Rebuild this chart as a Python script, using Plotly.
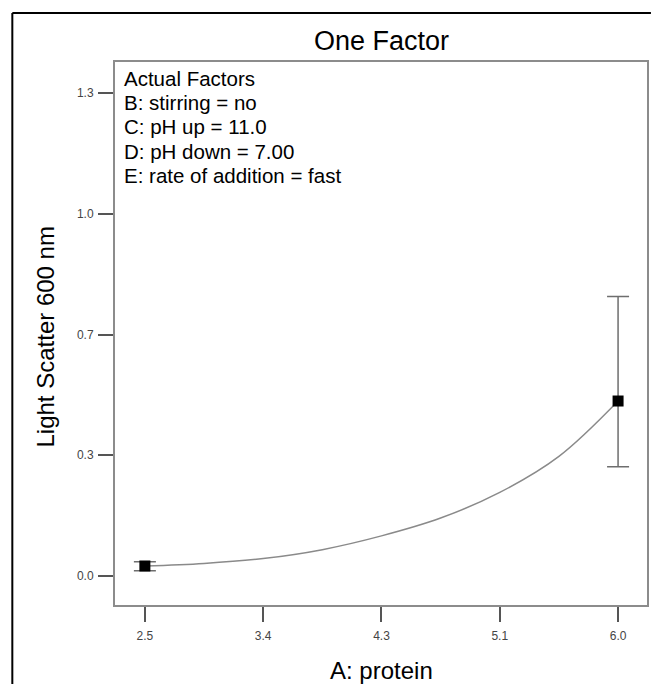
import plotly.graph_objects as go

# ---- data ----
curve_x = [2.5, 2.9375, 3.375, 3.8125, 4.25, 4.6875, 5.125, 5.5625, 6.0]
curve_y = [0.027, 0.034, 0.047, 0.071, 0.108, 0.156, 0.225, 0.322, 0.471]

design_x = [2.5, 6.0]
design_y = [0.027, 0.471]
err_plus = [0.0115, 0.281]
err_minus = [0.013, 0.177]

x_tickvals = [2.5, 3.375, 4.25, 5.125, 6.0]
x_ticktext = ["2.5", "3.4", "4.3", "5.1", "6.0"]
y_tickvals = [0.0, 0.325, 0.65, 0.975, 1.3]
y_ticktext = ["0.0", "0.3", "0.7", "1.0", "1.3"]

factor_lines = [
    "Actual Factors",
    "B: stirring = no",
    "C: pH up = 11.0",
    "D: pH down = 7.00",
    "E: rate of addition = fast",
]

FONT = "Liberation Sans, Arial, sans-serif"

fig = go.Figure()
fig.add_trace(go.Scatter(
    x=curve_x, y=curve_y, mode="lines",
    line=dict(color="#8a8a8a", width=1.5, shape="spline"),
    hoverinfo="skip", showlegend=False,
))
fig.add_trace(go.Scatter(
    x=design_x, y=design_y, mode="markers",
    marker=dict(symbol="square", size=11, color="black"),
    error_y=dict(type="data", symmetric=False, array=err_plus,
                 arrayminus=err_minus, color="#6e6e6e", thickness=1.5, width=11),
    showlegend=False,
))

annotations = [
    dict(text="One Factor", x=0.5, y=1, xref="paper", yref="paper",
         xanchor="center", yanchor="middle", yshift=21, showarrow=False,
         font=dict(family=FONT, size=27, color="black")),
    dict(text="Light Scatter 600 nm", x=0, y=0.5, xref="paper", yref="paper",
         xanchor="center", yanchor="middle", xshift=-70, yshift=-4, textangle=-90,
         showarrow=False, font=dict(family=FONT, size=24, color="black")),
    dict(text="A: protein", x=0.5, y=0, xref="paper", yref="paper",
         xanchor="center", yanchor="middle", yshift=-65, showarrow=False,
         font=dict(family=FONT, size=24, color="black")),
]
for i, line in enumerate(factor_lines):
    annotations.append(dict(
        text=line, x=0, y=1, xref="paper", yref="paper",
        xanchor="left", yanchor="middle", xshift=7, yshift=-16.5 - 24.2 * i,
        showarrow=False, font=dict(family=FONT, size=20.5, color="black")))

# outer frame (top and left edges), kept inside the figure so the page does not overflow
frame = [
    dict(type="line", xref="paper", yref="paper",
         x0=-0.193, x1=1.0074, y0=1.0902, y1=1.0902,
         line=dict(color="black", width=2)),
    dict(type="line", xref="paper", yref="paper",
         x0=-0.193, x1=-0.193, y0=1.0902, y1=-0.1454,
         line=dict(color="black", width=2)),
]

fig.update_layout(
    width=645, height=676,
    margin=dict(l=107, r=4, t=54, b=79),
    paper_bgcolor="white", plot_bgcolor="white",
    font=dict(family=FONT),
    annotations=annotations,
    shapes=frame,
)
fig.update_xaxes(
    range=[2.279, 6.214], tickmode="array", tickvals=x_tickvals, ticktext=x_ticktext,
    showgrid=False, zeroline=False, showline=True, mirror=True,
    linecolor="#8c8c8c", linewidth=2,
    ticks="outside", ticklen=15, tickwidth=1.5, tickcolor="#555555",
    ticklabelstandoff=4,
    tickfont=dict(family=FONT, size=12, color="#444444"),
)
fig.update_yaxes(
    range=[-0.078, 1.3834], tickmode="array", tickvals=y_tickvals, ticktext=y_ticktext,
    showgrid=False, zeroline=False, showline=True, mirror=True,
    linecolor="#8c8c8c", linewidth=2,
    ticks="outside", ticklen=15, tickwidth=1.5, tickcolor="#555555",
    ticklabelstandoff=2,
    tickfont=dict(family=FONT, size=12, color="#444444"),
)

fig.write_html("out.html")
